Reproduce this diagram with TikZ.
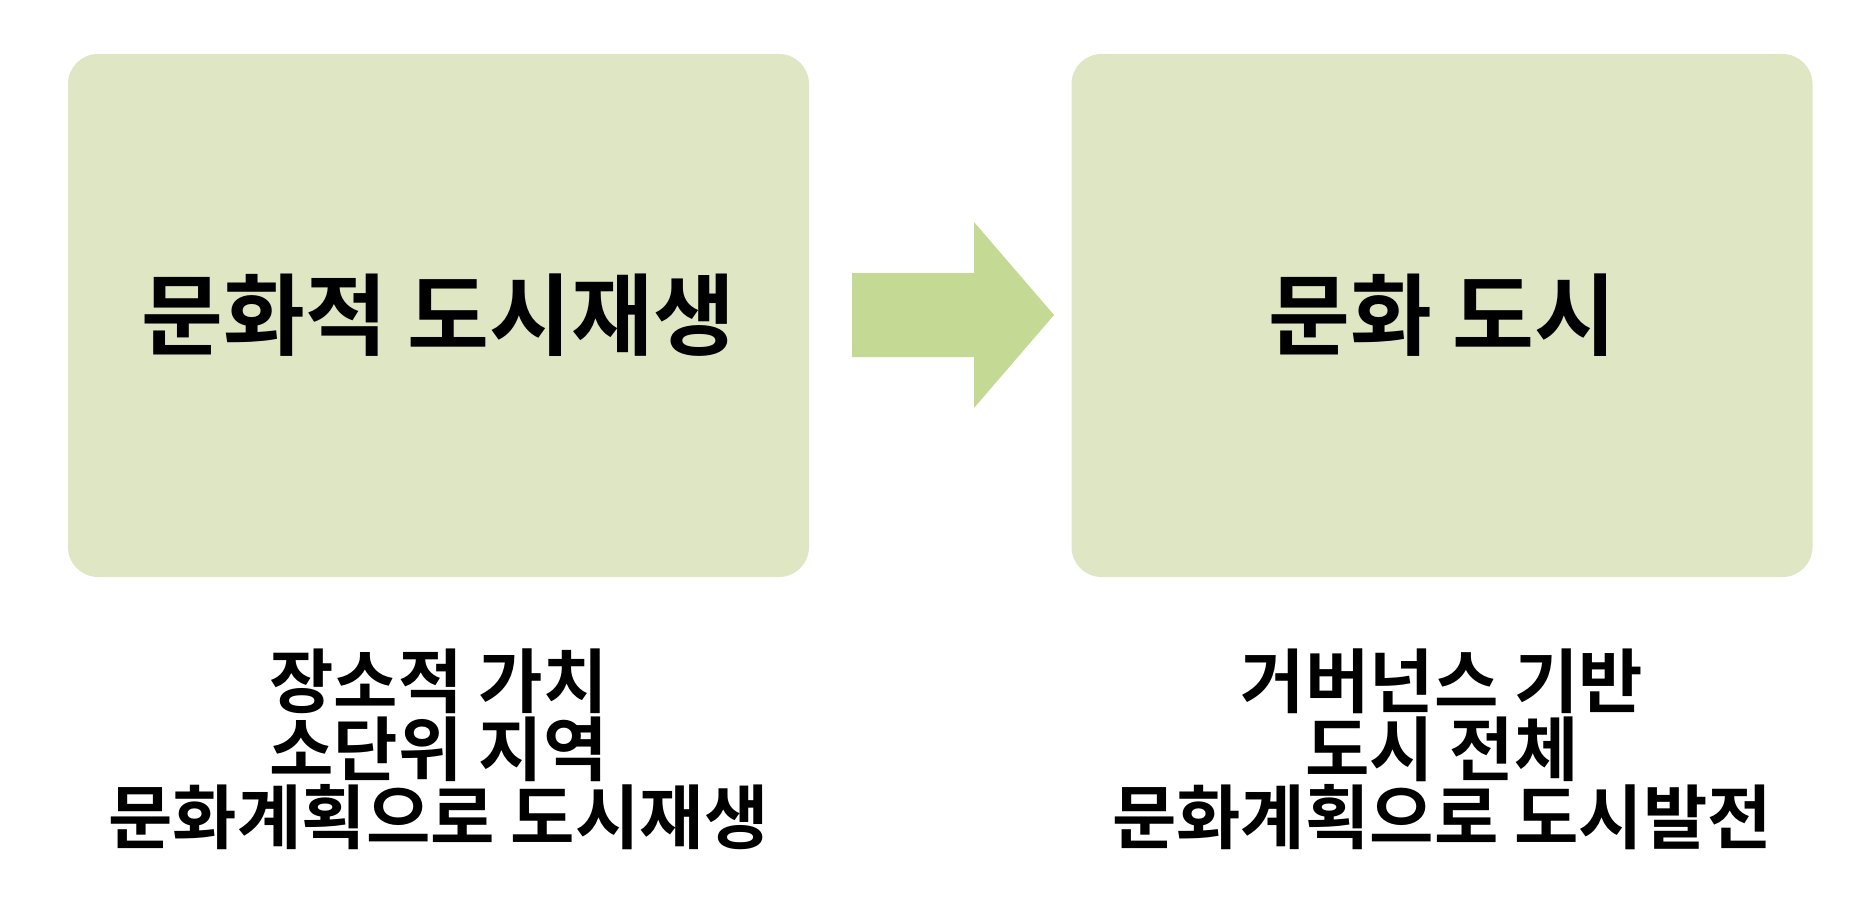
\documentclass[tikz,border=0pt]{standalone}
\usepackage{fontspec}
\newfontfamily\cjk{Noto Sans CJK KR}[BoldFont={Noto Sans CJK KR Bold}]
\definecolor{boxgreen}{HTML}{DEE6C3}
\definecolor{arrowgreen}{HTML}{C4D994}
\tikzset{
  stage/.style={fill=boxgreen,rounded corners=15pt,minimum width=370.5pt,minimum height=261.5pt,
    font=\cjk\bfseries\fontsize{44.5}{48}\selectfont,inner sep=0pt},
  note/.style={align=center,font=\cjk\bfseries\fontsize{35}{34}\selectfont,inner sep=0pt}
}
\begin{document}
\begin{tikzpicture}[x=.5pt,y=-.5pt]
	\useasboundingbox(0,0)rectangle(1866,904);
	\node[stage](regen)at(438.5,315.5){문화적 도시재생};
	\node[stage](city)at(1442,315.5){문화 도시};
	\fill[arrowgreen](852,273)--(974,273)--(974,222)--(1054,315)--(974,408)--(974,357)--(852,357)--cycle;
	\node[note](regennote)at(438.5,749){장소적 가치\\소단위 지역\\문화계획으로 도시재생};
	\node[note](citynote)at(1442,749){거버넌스 기반\\도시 전체\\문화계획으로 도시발전};
\end{tikzpicture}
\end{document}
